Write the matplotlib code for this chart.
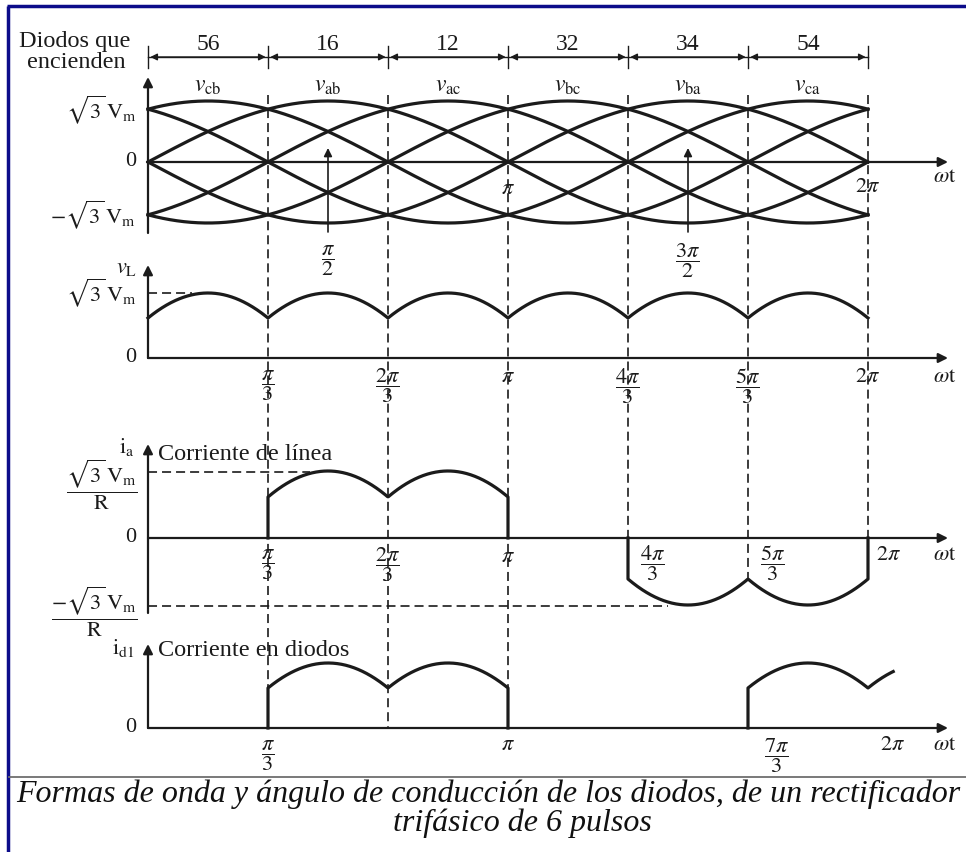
import numpy as np
import matplotlib.pyplot as plt

plt.rcParams['font.family'] = ['Liberation Serif', 'DejaVu Serif']
plt.rcParams['mathtext.fontset'] = 'stix'
plt.rcParams['lines.scale_dashes'] = False

INK = '#1b1b1b'
NAVY = '#0c0c8a'
pi = np.pi

# ---- data ----
seg_ticks = np.arange(7) * pi / 3                  # 0, pi/3 ... 2pi
diodes_on = ['56', '16', '12', '32', '34', '54']   # diodes conducting per interval
line_names = ['cb', 'ab', 'ac', 'bc', 'ba', 'ca']
peak_deg = [30, 90, 150, 210, 270, 330]            # angle of the peak of each line voltage
ia_windows = [(pi / 3, pi, 1), (4 * pi / 3, 2 * pi, -1)]
id1_windows = [(pi / 3, pi, True), (5 * pi / 3, 2 * pi + 0.22, False)]
cos30 = np.cos(pi / 6)

# pixel layout: theta=0 at x=148 px, 120 px per pi/3
K = 120 / (pi / 3)
X0 = 148


def px(xp):
    return (xp - X0) / K


def vline(t):
    return np.max([np.cos(t - np.radians(p)) for p in peak_deg], axis=0)


def ripple(v, zero, lo, hi):
    return zero - np.sign(v) * (lo + (np.abs(v) - cos30) / (1 - cos30) * (hi - lo))


fig = plt.figure(figsize=(9.66, 8.52), dpi=100)
ax = fig.add_axes([0, 0, 1, 1])
ax.set_xlim(px(0), px(966))
ax.set_ylim(852, 0)
ax.axis('off')

lw_c = 2.3
lw_a = 1.6
dash = (0, (6.5, 3.6))
fs = 16


def arrow(x0, y0, x1, y1, lw=lw_a, ms=14):
    ax.annotate('', xy=(x1, y1), xytext=(x0, y0),
                arrowprops=dict(arrowstyle='-|>', lw=lw, color=INK, mutation_scale=ms,
                                shrinkA=0, shrinkB=0))


def axes_pair(zero, ytop, ybot):
    arrow(0, ybot, 0, ytop)
    arrow(0, zero, px(948), zero)


def txt(x, y, s, size=fs, ha='center', **kw):
    ax.text(x, y, s, fontsize=size, ha=ha, va='center', color=INK, **kw)


sq = r'$\sqrt{3}\,\mathrm{V_m}$'

# frame
ax.plot([px(7), px(966)], [6, 6], color=NAVY, lw=2.5, solid_capstyle='butt')
ax.plot([px(8), px(8)], [6, 852], color=NAVY, lw=2.5, solid_capstyle='butt')
ax.plot([px(9), px(966)], [777, 777], color='#6e6e6e', lw=1.3)

# dimension line with conducting diodes
ax.plot([seg_ticks[0], seg_ticks[-1]], [57, 57], color=INK, lw=1.0)
for t in seg_ticks:
    ax.plot([t, t], [46, 68], color=INK, lw=1.0)
for i, name in enumerate(diodes_on):
    a, b = seg_ticks[i], seg_ticks[i + 1]
    ax.annotate('', xy=(b - 0.02, 57), xytext=(a + 0.02, 57),
                arrowprops=dict(arrowstyle='<|-|>', lw=1.0, color=INK, mutation_scale=10,
                                shrinkA=0, shrinkB=0))
    txt((a + b) / 2, 45, name, size=17)
txt(px(75), 42, 'Diodos que', size=17.5)
txt(px(76), 63, 'encienden', size=17.5)

# dashed verticals
dash_bottom = [None, 728, 728, 728, 538, 582, 538]
for t, yb in zip(seg_ticks, dash_bottom):
    if yb is None:
        continue
    ax.plot([t, t], [95, yb], color=INK, lw=1.2, linestyle=dash)

# ---- panel 1: line voltages ----
theta = np.linspace(0, 2 * pi, 1441)
for p in peak_deg:
    ax.plot(theta, 162 - 61 * np.cos(theta - np.radians(p)), color=INK, lw=lw_c)
axes_pair(162, 77, 233)
for i, name in enumerate(line_names):
    txt((seg_ticks[i] + seg_ticks[i + 1]) / 2, 86, r'$v_{\mathrm{%s}}$' % name, size=17)
txt(px(136), 110, sq, ha='right')
txt(px(136), 162, '0', ha='right')
txt(px(136), 215, r'$-\sqrt{3}\,\mathrm{V_m}$', ha='right')
txt(pi, 190, r'$\pi$')
txt(2 * pi, 187, r'$2\pi$')
txt(px(945), 178, r'$\omega\mathrm{t}$')
for t, lab in [(pi / 2, r'$\dfrac{\pi}{2}$'), (3 * pi / 2, r'$\dfrac{3\pi}{2}$')]:
    arrow(t, 232, t, 148, lw=1.2, ms=12)
    txt(t, 261, lab)

# ---- panel 2: load voltage ----
vL = vline(theta)
ax.plot(theta, ripple(vL, 358, 40, 65), color=INK, lw=lw_c)
axes_pair(358, 265, 358)
ax.plot([0, px(192)], [293, 293], color=INK, lw=1.2, linestyle=dash)
txt(px(137), 268, r'$v_\mathrm{L}$', ha='right')
txt(px(136), 293, sq, ha='right')
txt(px(136), 358, '0', ha='right')
p2_labels = [r'$\dfrac{\pi}{3}$', r'$\dfrac{2\pi}{3}$', r'$\pi$',
             r'$\dfrac{4\pi}{3}$', r'$\dfrac{5\pi}{3}$', r'$2\pi$']
for t, lab in zip(seg_ticks[1:], p2_labels):
    txt(t, 386 if 'frac' in lab else 377, lab)
txt(px(945), 377, r'$\omega\mathrm{t}$')

# ---- panel 3: line current ----
for a, b, s in ia_windows:
    tt = np.linspace(a, b, 400)
    yy = ripple(s * vline(tt), 538, 41, 67)
    ax.plot(np.r_[a, tt, b], np.r_[538, yy, 538], color=INK, lw=lw_c)
axes_pair(538, 444, 613)
ax.plot([0, px(310)], [472, 472], color=INK, lw=1.2, linestyle=dash)
ax.plot([0, px(668)], [606, 606], color=INK, lw=1.2, linestyle=dash)
txt(px(134), 447, r'$\mathrm{i_a}$', ha='right')
txt(px(158), 455, 'Corriente de línea', ha='left', size=17.5)
txt(px(138), 485, r'$\dfrac{\sqrt{3}\,\mathrm{V_m}}{\mathrm{R}}$', ha='right')
txt(px(136), 538, '0', ha='right')
txt(px(138), 612, r'$\dfrac{-\sqrt{3}\,\mathrm{V_m}}{\mathrm{R}}$', ha='right')
p3_pos = [(pi / 3, 0, 565), (2 * pi / 3, 0, 565), (pi, 0, 557),
          (4 * pi / 3, 25, 563), (5 * pi / 3, 25, 563), (2 * pi, 21, 555)]
for (t, dx, y), lab in zip(p3_pos, p2_labels):
    txt(t + dx / K, y, lab)
txt(px(945), 555, r'$\omega\mathrm{t}$')

# ---- panel 4: diode current ----
for a, b, closed in id1_windows:
    tt = np.linspace(a, b, 400)
    yy = ripple(vline(tt), 728, 40, 65)
    xs, ys = np.r_[a, tt], np.r_[728, yy]
    if closed:
        xs, ys = np.r_[xs, b], np.r_[ys, 728]
    ax.plot(xs, ys, color=INK, lw=lw_c)
axes_pair(728, 644, 728)
txt(px(134), 648, r'$\mathrm{i_{d1}}$', ha='right')
txt(px(158), 650, 'Corriente en diodos', ha='left', size=17.5)
txt(px(136), 728, '0', ha='right')
txt(pi / 3, 756, r'$\dfrac{\pi}{3}$')
txt(pi, 745, r'$\pi$')
txt(px(777), 756, r'$\dfrac{7\pi}{3}$')
txt(px(893), 745, r'$2\pi$')
txt(px(945), 745, r'$\omega\mathrm{t}$')

# caption
ax.text(px(488), 802, 'Formas de onda y ángulo de conducción de los diodos, de un rectificador',
        fontsize=23, style='italic', ha='center', va='baseline', color='#111111')
ax.text(px(522), 831, 'trifásico de 6 pulsos',
        fontsize=23, style='italic', ha='center', va='baseline', color='#111111')

fig.savefig('out.png', dpi=100, facecolor='white')
